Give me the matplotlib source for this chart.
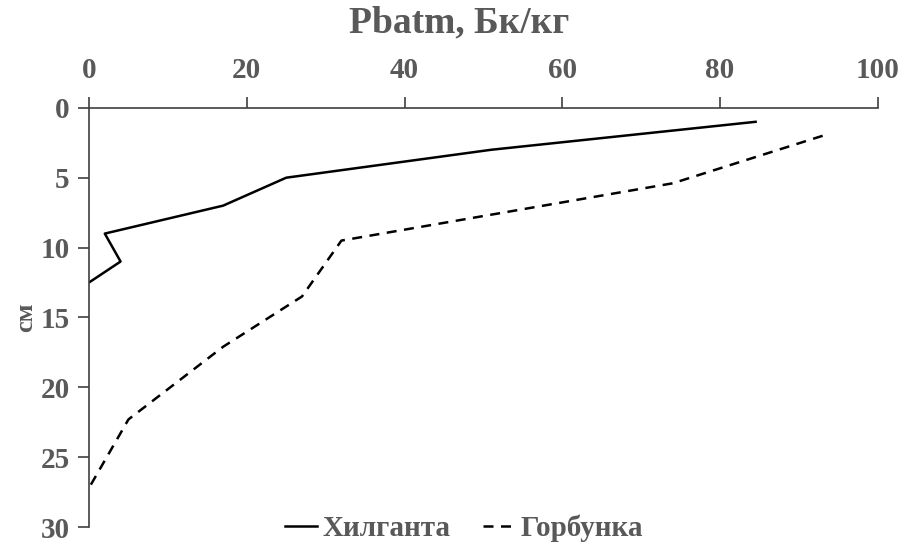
import matplotlib.pyplot as plt

plt.rcParams['font.family'] = ['Liberation Serif', 'DejaVu Serif']
plt.rcParams['font.weight'] = 'bold'

# Хилганта: активность (Бк/кг) и глубина (см)
khilganta_x = [84.5, 51, 25, 17, 2, 4, 0]
khilganta_y = [1.0, 3.0, 5.0, 7.0, 9.0, 11.0, 12.5]

# Горбунка
gorbunka_x = [93, 74, 32, 27, 17, 5, 0]
gorbunka_y = [2.0, 5.4, 9.5, 13.5, 17.1, 22.3, 27.2]

x_ticks = [0, 20, 40, 60, 80, 100]
y_ticks = [0, 5, 10, 15, 20, 25, 30]

grey = '#595959'

fig = plt.figure(figsize=(9.13, 5.53), dpi=100)
ax = fig.add_axes([0.0975, 0.047, 0.864, 0.758])

ax.plot(khilganta_x, khilganta_y, color='black', lw=1.8, label='Хилганта')
ax.plot(gorbunka_x, gorbunka_y, color='black', lw=1.8, ls=(0, (4, 3)), label='Горбунка')

ax.set_xlim(0, 100)
ax.set_ylim(30, 0)
ax.set_xticks(x_ticks)
ax.set_yticks(y_ticks)
ax.xaxis.tick_top()
ax.tick_params(axis='both', direction='out', length=8, width=1.2, color='#404040',
               labelsize=21, labelcolor=grey)
ax.tick_params(axis='x', pad=9)
ax.tick_params(axis='y', pad=6)
for lab in ax.get_xticklabels() + ax.get_yticklabels():
    lab.set_fontweight('bold')

ax.spines['right'].set_visible(False)
ax.spines['bottom'].set_visible(False)
for s in ['left', 'top']:
    ax.spines[s].set_color('#404040')
    ax.spines[s].set_linewidth(1.2)

fig.text(0.503, 0.958, 'Pbatm, Бк/кг', ha='center', va='center', fontsize=27,
         color=grey, fontweight='bold')
ax.set_ylabel('см', fontsize=19, color=grey, fontweight='bold', labelpad=2)

leg = fig.legend(loc='center', bbox_to_anchor=(0.508, 0.045), ncol=2, frameon=False,
                 fontsize=21, handlelength=1.1, handletextpad=0.2, columnspacing=1.1)
for t in leg.get_texts():
    t.set_color(grey)

fig.savefig('out.png', dpi=100)
